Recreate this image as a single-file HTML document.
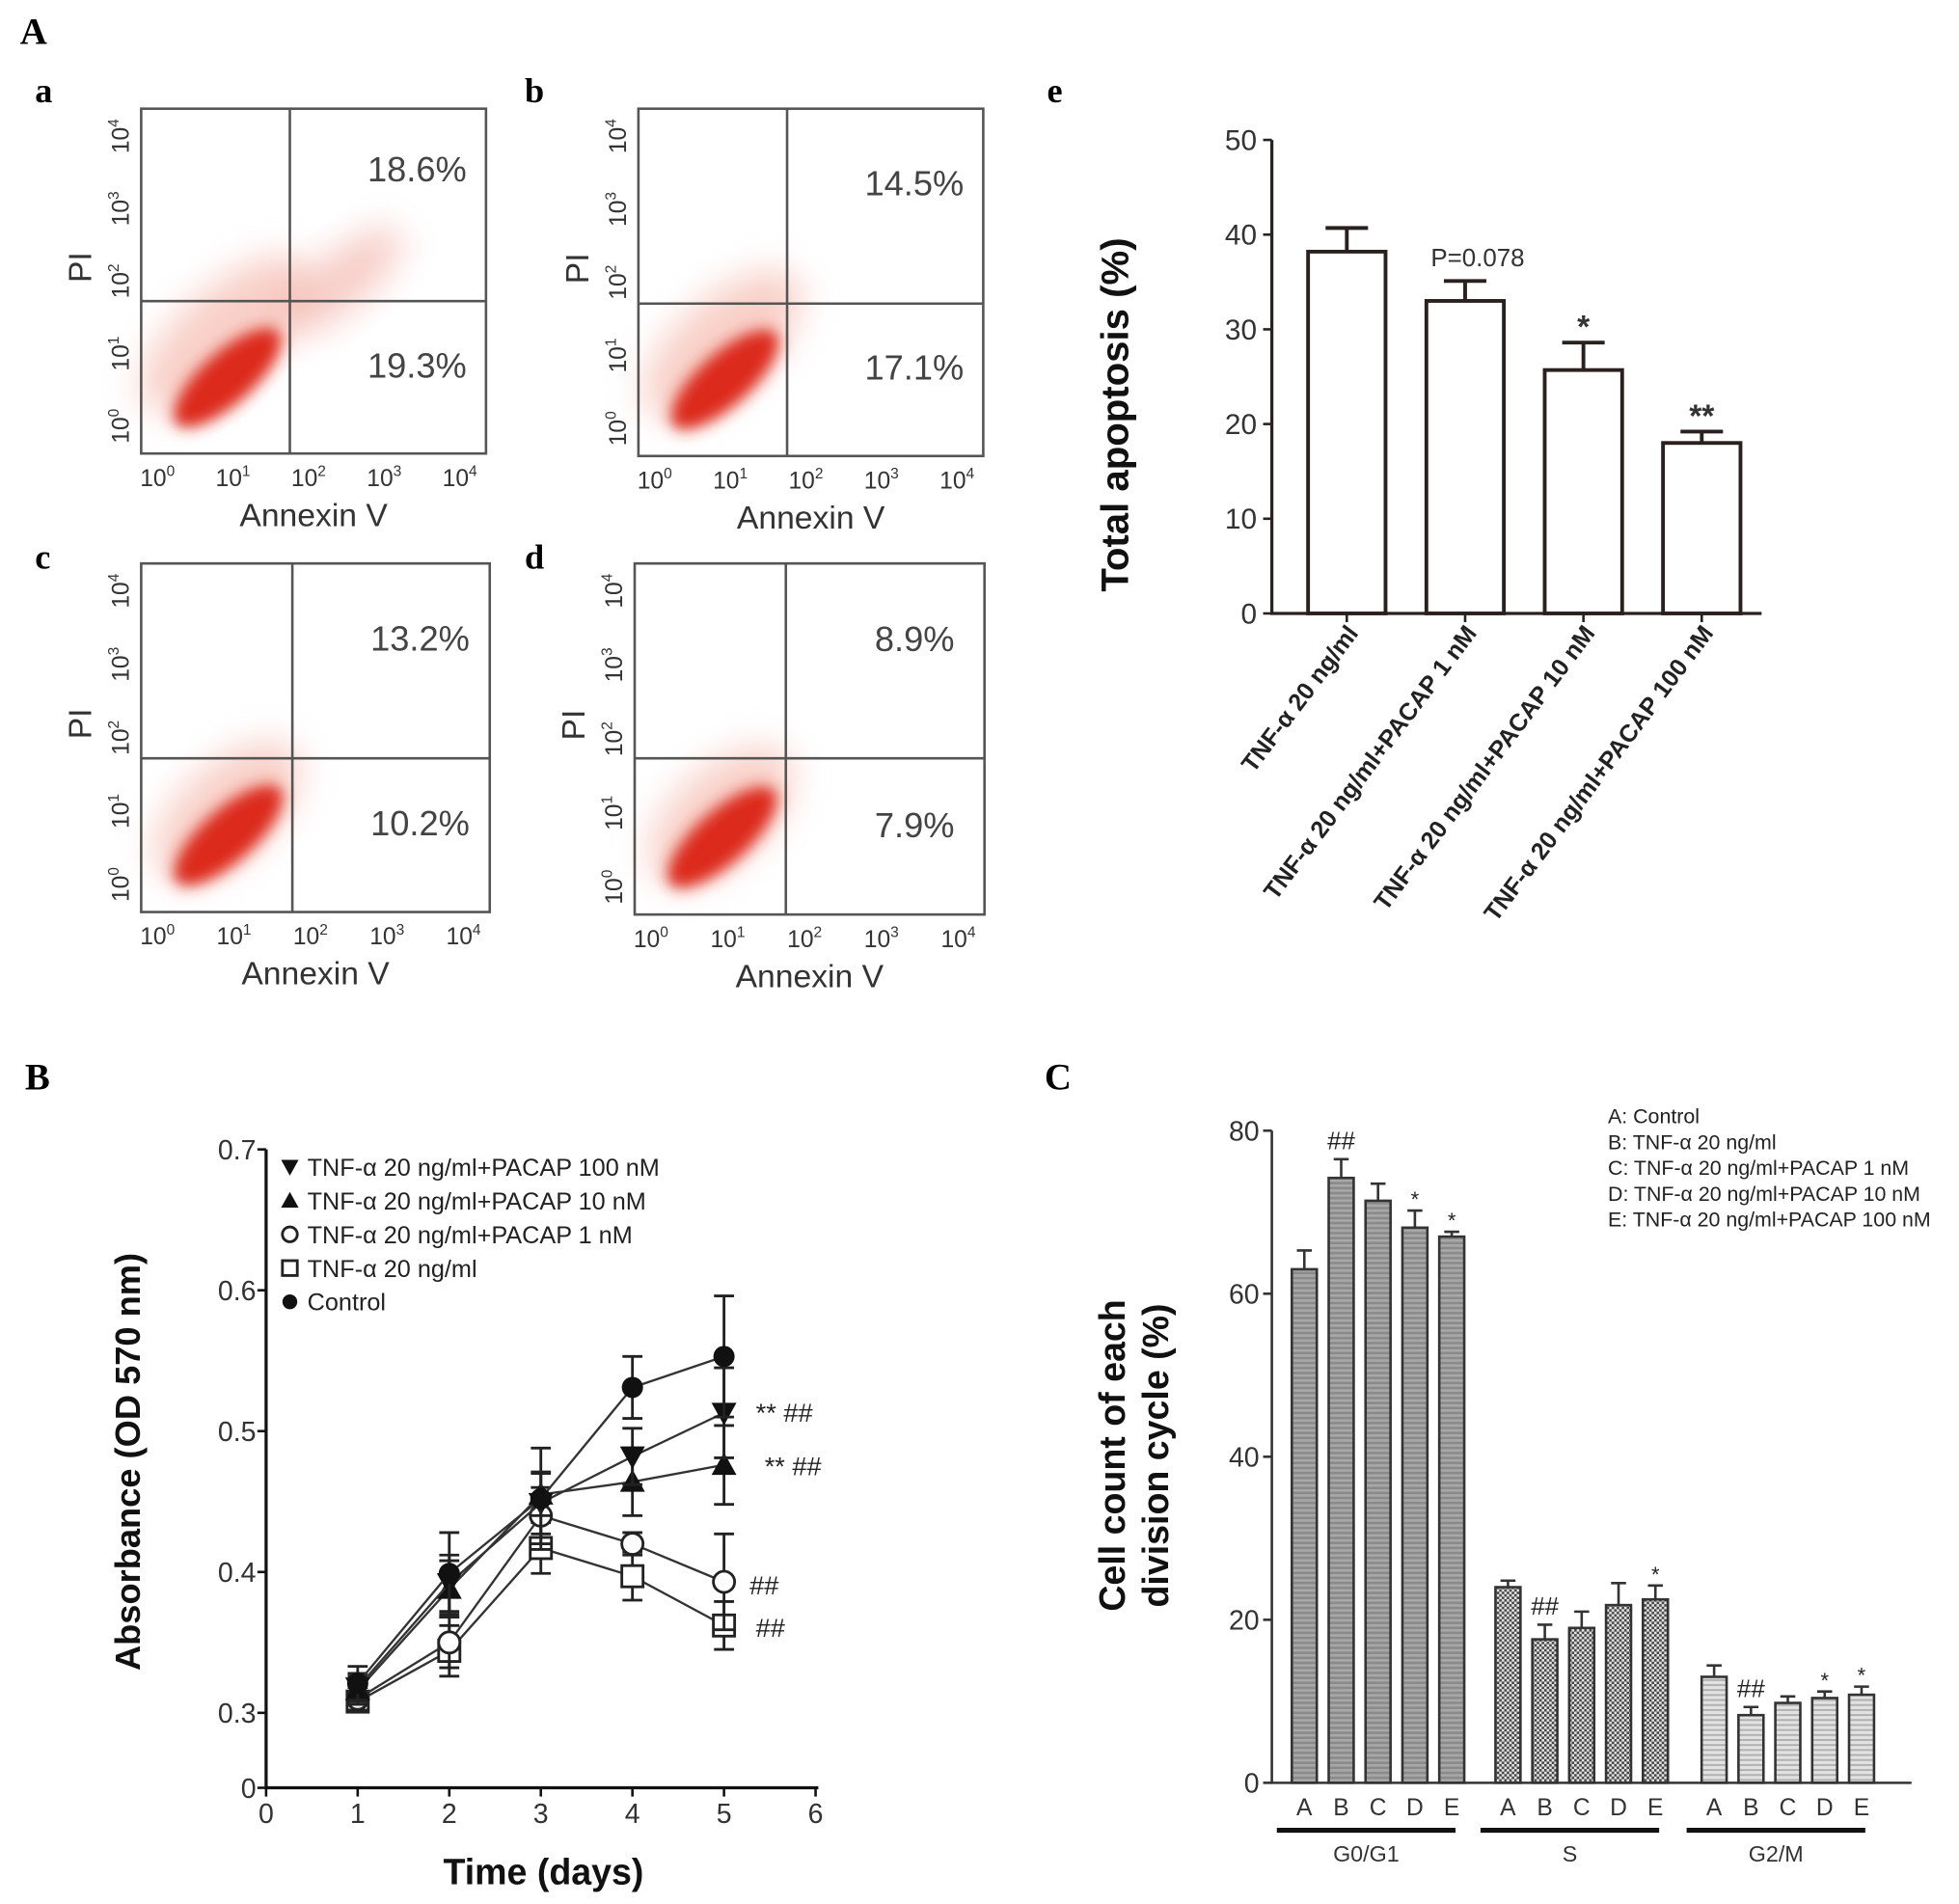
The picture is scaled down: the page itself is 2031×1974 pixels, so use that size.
<!DOCTYPE html>
<html><head><meta charset="utf-8"><style>
html,body{margin:0;padding:0;background:#fff;}
svg{display:block;font-family:"Liberation Sans",sans-serif;}
.ser{font-family:"Liberation Serif",serif;font-weight:bold;}
</style></head><body>
<svg id="fig" width="2031" height="1974" viewBox="0 0 1568 1524" xmlns="http://www.w3.org/2000/svg">
<defs>
<pattern id="pG0" width="6" height="4" patternUnits="userSpaceOnUse"><rect width="6" height="4" fill="#8a8a8a"/><rect width="6" height="2" fill="#a8a8a8"/></pattern>
<pattern id="pS" width="4" height="4" patternUnits="userSpaceOnUse"><rect width="4" height="4" fill="#e6e6e6"/><rect width="2" height="2" fill="#444"/><rect x="2" y="2" width="2" height="2" fill="#444"/></pattern>
<pattern id="pG2" width="6" height="4" patternUnits="userSpaceOnUse"><rect width="6" height="4" fill="#e2e2e2"/><rect width="6" height="1.5" fill="#b0b0b0"/></pattern>
<filter id="blur" x="-50%" y="-50%" width="200%" height="200%"><feGaussianBlur stdDeviation="6"/></filter>
<filter id="blur2" x="-50%" y="-50%" width="200%" height="200%"><feGaussianBlur stdDeviation="14"/></filter>
</defs>
<rect width="1568" height="1524" fill="#fff"/>
<g class="ser" font-size="30">
<text x="16" y="35">A</text>
<text x="20" y="872">B</text>
<text x="836" y="872">C</text>
</g>
<g class="ser" font-size="28">
<text x="28" y="82">a</text>
<text x="420" y="82">b</text>
<text x="28" y="455">c</text>
<text x="420" y="455">d</text>
<text x="838" y="82">e</text>
</g>
<g id="flow"></g>
<g id="chartE"></g>
<g id="chartB"></g>
<g id="chartC"></g>
</svg>
<script>
const NS='http://www.w3.org/2000/svg';
function mk(parent,tag,attrs,text){const e=document.createElementNS(NS,tag);for(const k in attrs)e.setAttribute(k,attrs[k]);if(text!==undefined)e.textContent=text;parent.appendChild(e);return e;}

/* ---------- Flow cytometry panels ---------- */
const flowNames=['a','b','c','d'];
const flowBoxes=[[113,87,389,363,232,241],[511,87,787,365,630,243],[113,451,392,730,234,607],[508,451,788,732,629,607]];
const flowUpper=['18.6%','14.5%','13.2%','8.9%'];
const flowLower=['19.3%','17.1%','10.2%','7.9%'];
const flowSpread=[1.0,0.8,0.55,0.5];
const flow=document.getElementById('flow');
flowBoxes.forEach((b,i)=>{
  const [x0,y0,x1,y1,vx,hy]=b;
  const g=mk(flow,'g',{});
  
  
  const w=x1-x0,h=y1-y0;
  const cx=x0+w*0.25,cy=y0+h*0.78;
  const halo=mk(g,'ellipse',{cx:cx+w*0.08*flowSpread[i],cy:cy-h*0.1*flowSpread[i],rx:w*0.28*(0.7+flowSpread[i]*0.4),ry:h*0.13,fill:'#f2a090',opacity:0.5,filter:'url(#blur2)',transform:`rotate(-42 ${cx} ${cy})`});
  
  
  const core=mk(g,'ellipse',{cx:cx,cy:cy,rx:w*0.2,ry:h*0.075,fill:'#dc2a1a',filter:'url(#blur)',transform:`rotate(-42 ${cx} ${cy})`});
  
  
  if(i===0){const up=mk(g,'ellipse',{cx:x0+w*0.58,cy:y0+h*0.5,rx:w*0.22,ry:h*0.08,fill:'#e87060',opacity:0.35,filter:'url(#blur2)',transform:`rotate(-40 ${x0+w*0.58} ${y0+h*0.5})`});
    }
  const box=mk(g,'rect',{x:x0,y:y0,width:w,height:h,fill:'none',stroke:'#555','stroke-width':2});
  
  mk(g,'line',{x1:vx,y1:y0,x2:vx,y2:y1,stroke:'#555','stroke-width':2});
  mk(g,'line',{x1:x0,y1:hy,x2:x1,y2:hy,stroke:'#555','stroke-width':2});
  const t1=mk(g,'text',{x:x0+w*0.8,y:y0+h*(i===0?0.21:0.25),'text-anchor':'middle','font-size':28,fill:'#444'},flowUpper[i]);
  
  const t2=mk(g,'text',{x:x0+w*0.8,y:y0+h*0.78,'text-anchor':'middle','font-size':28,fill:'#444'},flowLower[i]);
  
  for(let k=0;k<5;k++){
    const tx=x0+17+k*(w-34)/4;
    const xl=mk(g,'text',{x:tx-4,y:y1+26,'text-anchor':'middle','font-size':19,fill:'#333'},'10');
    mk(xl,'tspan',{dy:-8,'font-size':12},String(k));
    
    const ty=y1-22-k*(h-44)/4;
    const yl=mk(g,'text',{x:0,y:0,'text-anchor':'middle','font-size':19,fill:'#333',transform:`translate(${x0-10} ${ty}) rotate(-90)`},'10');
    mk(yl,'tspan',{dy:-8,'font-size':12},String(k));
    
  }
  const xt=mk(g,'text',{x:x0+w*0.5,y:y1+58,'text-anchor':'middle','font-size':26,fill:'#333'},'Annexin V');
  
  const yt=mk(g,'text',{x:0,y:0,'text-anchor':'middle','font-size':26,fill:'#333',transform:`translate(${x0-40} ${y0+h*0.46}) rotate(-90)`},'PI');
  
});

/* ---------- Panel e: total apoptosis ---------- */
const eCats=['TNF-α 20 ng/ml','TNF-α 20 ng/ml+PACAP 1 nM','TNF-α 20 ng/ml+PACAP 10 nM','TNF-α 20 ng/ml+PACAP 100 nM'];
const eVals=[38.2,33,25.7,18];
const eErr=[2.5,2.1,2.9,1.2];
const eSig=['','P=0.078','*','**'];
const eTicks=[0,10,20,30,40,50];
(function(){
  const g=document.getElementById('chartE');
  
  
  const X0=1018,Y0=491,Y1=112,yS=v=>Y0-(Y0-Y1)*v/50;
  const xC=i=>1078+i*94.7,bw=62;
  eVals.forEach((v,i)=>{
    const x=xC(i),top=yS(v),et=yS(v+eErr[i]);
    const r=mk(g,'rect',{x:x-bw/2,y:top,width:bw,height:Y0-top,fill:'#fff',stroke:'#2a2020','stroke-width':3});
    
    const eb=mk(g,'path',{d:`M${x} ${top}V${et}M${x-17} ${et}H${x+17}`,stroke:'#2a2020','stroke-width':3,fill:'none'});
    
    if(eSig[i]){const s=mk(g,'text',{x:x+(i===1?10:0),y:et-(i===1?12:4),'text-anchor':'middle','font-size':i===1?20:26,'font-weight':i===1?'normal':'bold',fill:'#333'},eSig[i]);
      }
    mk(g,'line',{x1:x,y1:Y0,x2:x,y2:Y0+7,stroke:'#2a2020','stroke-width':2});
    const lbl=mk(g,'text',{x:0,y:0,'text-anchor':'end','font-size':19.5,'font-weight':'bold',fill:'#222',transform:`translate(${x+10} ${Y0+16}) rotate(-53)`},eCats[i]);
    
  });
  const ax=mk(g,'path',{d:`M${X0} ${Y1}V${Y0}H1410`,stroke:'#2a2020','stroke-width':2.5,fill:'none'});
  
  eTicks.forEach(t=>{const y=yS(t);mk(g,'line',{x1:X0-7,y1:y,x2:X0,y2:y,stroke:'#2a2020','stroke-width':2});
    const tl=mk(g,'text',{x:X0-12,y:y+8,'text-anchor':'end','font-size':23,fill:'#333'},String(t));
    });
  const yt=mk(g,'text',{x:0,y:0,'text-anchor':'middle','font-size':31,'font-weight':'bold',fill:'#111',transform:`translate(903 332) rotate(-90)`},'Total apoptosis (%)');
  
})();

/* ---------- Panel B: absorbance over time ---------- */
const bDays=[1,2,3,4,5];
const bNames=['TNF-α 20 ng/ml+PACAP 100 nM','TNF-α 20 ng/ml+PACAP 10 nM','TNF-α 20 ng/ml+PACAP 1 nM','TNF-α 20 ng/ml','Control'];
const bMarkers=['tridown','triup','circle-open','square-open','circle-filled'];
const bControl=[0.321,0.399,0.452,0.531,0.553];
const bControlErr=[0.012,0.029,0.036,0.022,0.043];
const b100=[0.318,0.392,0.449,0.482,0.513];
const b100Err=[0.01,0.02,0.022,0.02,0.032];
const b10=[0.316,0.388,0.455,0.464,0.476];
const b10Err=[0.01,0.02,0.015,0.024,0.028];
const b1=[0.31,0.35,0.44,0.42,0.393];
const b1Err=[0.008,0.018,0.02,0.008,0.034];
const bTnf=[0.308,0.344,0.417,0.397,0.362];
const bTnfErr=[0.006,0.018,0.018,0.017,0.017];
const bYTicks=[0,0.3,0.4,0.5,0.6,0.7];
const bXTicks=[0,1,2,3,4,5,6];
const bSeries=[[b100,b100Err],[b10,b10Err],[b1,b1Err],[bTnf,bTnfErr],[bControl,bControlErr]];
(function(){
  const g=document.getElementById('chartB');
  
  
  const X0=213,Y0=1431;
  const xS=d=>X0+d*73.3;
  const yS=v=>v<0.3?Y0-(60*v/0.3):1371-(v-0.3)*1127.5;
  function marker(par,type,x,y,s){
    let e;
    if(type==='tridown')e=mk(par,'path',{d:`M${x-s} ${y-s*0.8}H${x+s}L${x} ${y+s}Z`,fill:'#111'});
    else if(type==='triup')e=mk(par,'path',{d:`M${x-s} ${y+s*0.8}H${x+s}L${x} ${y-s}Z`,fill:'#111'});
    else if(type==='circle-open')e=mk(par,'circle',{cx:x,cy:y,r:s*0.85,fill:'#fff',stroke:'#222','stroke-width':2.2});
    else if(type==='square-open')e=mk(par,'rect',{x:x-s*0.85,y:y-s*0.85,width:s*1.7,height:s*1.7,fill:'#fff',stroke:'#222','stroke-width':2.2});
    else e=mk(par,'circle',{cx:x,cy:y,r:s*0.85,fill:'#111'});
    return e;
  }
  const order=[3,2,1,0,4];
  order.forEach(si=>{
    const [vals,errs]=bSeries[si];
    const sg=mk(g,'g',{});
    
    const d=vals.map((v,i)=>(i?'L':'M')+xS(bDays[i])+' '+yS(v)).join('');
    const ln=mk(sg,'path',{d:d,fill:'none',stroke:'#333','stroke-width':1.8});
    
    vals.forEach((v,i)=>{const x=xS(bDays[i]);
      const eb=mk(sg,'path',{d:`M${x} ${yS(v-errs[i])}V${yS(v+errs[i])}M${x-8} ${yS(v-errs[i])}H${x+8}M${x-8} ${yS(v+errs[i])}H${x+8}`,stroke:'#222','stroke-width':2.2,fill:'none'});
      
      const m=marker(sg,bMarkers[si],x,yS(v),10);
      });
  });
  const ax=mk(g,'path',{d:`M${X0} 920V${Y0}H655`,stroke:'#111','stroke-width':2.5,fill:'none'});
  
  bYTicks.forEach(t=>{const y=yS(t);mk(g,'line',{x1:X0-7,y1:y,x2:X0,y2:y,stroke:'#111','stroke-width':2});
    const tl=mk(g,'text',{x:X0-8,y:y+8,'text-anchor':'end','font-size':22,fill:'#333'},String(t));
    });
  bXTicks.forEach(t=>{const x=xS(t);mk(g,'line',{x1:x,y1:Y0,x2:x,y2:Y0+7,stroke:'#111','stroke-width':2});
    const tl=mk(g,'text',{x:x,y:Y0+28,'text-anchor':'middle','font-size':22,fill:'#333'},String(t));
    });
  bNames.forEach((n,i)=>{const y=934+i*27;
    const le=mk(g,'g',{});
    marker(le,bMarkers[i],232,y,7);
    mk(le,'text',{x:246,y:y+7,'font-size':19.5,fill:'#222'},n);});
  const xt=mk(g,'text',{x:435,y:1508,'text-anchor':'middle','font-size':29,'font-weight':'bold',fill:'#111'},'Time (days)');
  
  const yt=mk(g,'text',{x:0,y:0,'text-anchor':'middle','font-size':28,'font-weight':'bold',fill:'#111',transform:`translate(112 1170) rotate(-90)`},'Absorbance (OD 570 nm)');
  
  [['**  ##',605,1138],['** ##',612,1181],['##',600,1276],['##',605,1310]].forEach(a=>{
    const t=mk(g,'text',{x:a[1],y:a[2],'font-size':21,fill:'#222'},a[0]);
    });
})();

/* ---------- Panel C: cell cycle ---------- */
const cGroups=['G0/G1','S','G2/M'];
const cLetters=['A','B','C','D','E'];
const cG0=[63,74.2,71.4,68.1,67];
const cG0Err=[2.3,2.3,2.1,2.1,0.6];
const cS=[24,17.6,19,21.8,22.5];
const cSErr=[0.8,1.8,2,2.7,1.7];
const cG2=[13,8.3,9.8,10.4,10.8];
const cG2Err=[1.4,1,0.8,0.8,1];
const cSig=[['','##','','*','*'],['','##','','','*'],['','##','','*','*']];
const cTicks=[0,20,40,60,80];
const cLegend=['A: Control','B: TNF-α 20 ng/ml','C: TNF-α 20 ng/ml+PACAP 1 nM','D: TNF-α 20 ng/ml+PACAP 10 nM','E: TNF-α 20 ng/ml+PACAP 100 nM'];
(function(){
  const g=document.getElementById('chartC');
  
  
  const X0=1018,Y0=1427,Y1=905,yS=v=>Y0-(Y0-Y1)*v/80;
  const groupStart=[1044,1207,1372],step=29.5,bw=20;
  const data=[[cG0,cG0Err],[cS,cSErr],[cG2,cG2Err]];
  const fills=['url(#pG0)','url(#pS)','url(#pG2)'];
  data.forEach(([vals,errs],gi)=>{
    vals.forEach((v,i)=>{const x=groupStart[gi]+i*step,top=yS(v),et=yS(v+errs[i]);
      const r=mk(g,'rect',{x:x-bw/2,y:top,width:bw,height:Y0-top,fill:fills[gi],stroke:'#333','stroke-width':2});
      
      const eb=mk(g,'path',{d:`M${x} ${top}V${et}M${x-6} ${et}H${x+6}`,stroke:'#333','stroke-width':2,fill:'none'});
      
      if(cSig[gi][i]){const s=mk(g,'text',{x:x,y:et-(cSig[gi][i]==='*'?3:8),'text-anchor':'middle','font-size':cSig[gi][i]==='*'?17:20,fill:'#222'},cSig[gi][i]);
        }
      const l=mk(g,'text',{x:x,y:Y0+26,'text-anchor':'middle','font-size':19,fill:'#333'},cLetters[i]);
      
    });
    const gx0=groupStart[gi]-22,gx1=groupStart[gi]+4*step+3;
    const gl=mk(g,'line',{x1:gx0,y1:1465,x2:gx1,y2:1465,stroke:'#111','stroke-width':4});
    
    const gt=mk(g,'text',{x:(gx0+gx1)/2,y:1490,'text-anchor':'middle','font-size':18,fill:'#333'},cGroups[gi]);
    
  });
  const ax=mk(g,'path',{d:`M${X0} ${Y1}V${Y0}H1530`,stroke:'#333','stroke-width':2,fill:'none'});
  
  cTicks.forEach(t=>{const y=yS(t);mk(g,'line',{x1:X0-7,y1:y,x2:X0,y2:y,stroke:'#333','stroke-width':2});
    const tl=mk(g,'text',{x:X0-10,y:y+8,'text-anchor':'end','font-size':22,fill:'#333'},String(t));
    });
  cLegend.forEach((n,i)=>{const t=mk(g,'text',{x:1287,y:899+i*20.7,'font-size':16.5,fill:'#222'},n);
    });
  const yt=mk(g,'text',{x:0,y:0,'text-anchor':'middle','font-size':29,'font-weight':'bold',fill:'#111',transform:`translate(900 1165) rotate(-90)`},'Cell count of each');
  
  const yt2=mk(g,'text',{x:0,y:0,'text-anchor':'middle','font-size':29,'font-weight':'bold',fill:'#111',transform:`translate(935 1165) rotate(-90)`},'division cycle (%)');
  
})();
</script>
</body></html>
